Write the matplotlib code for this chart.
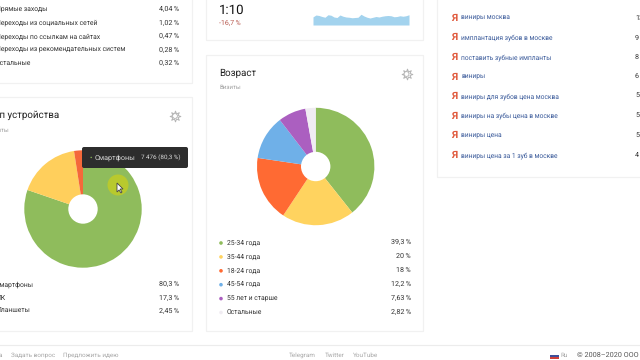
import matplotlib

matplotlib.use("Agg")
import matplotlib.pyplot as plt
from matplotlib.patches import Circle, FancyBboxPatch, Polygon, Rectangle

plt.rcParams["font.family"] = ["Roboto", "DejaVu Sans"]
plt.rcParams["text.hinting"] = "no_hinting"

# Источники (обрезанный блок сверху слева)
source_names = ["Прямые заходы", "Переходы из социальных сетей", "Переходы по ссылкам на сайтах",
                "Переходы из рекомендательных систем", "Остальные"]
source_values = ["4,04\u2009%", "1,02\u2009%", "0,47\u2009%", "0,28\u2009%", "0,32\u2009%"]

# Тип устройства
device_names = ["Смартфоны", "ПК", "Планшеты"]
device_shares = [80.3, 17.3, 2.45]
device_labels = ["80,3\u2009%", "17,3\u2009%", "2,45\u2009%"]
device_colors = ["#8fbc5c", "#ffcf5c", "#f4683a"]

# Возраст
age_names = ["25-34 года", "35-44 года", "18-24 года", "45-54 года", "55 лет и старше", "Остальные"]
age_shares = [39.3, 20, 18, 12.2, 7.63, 2.82]
age_labels = ["39,3\u2009%", "20\u2009%", "18\u2009%", "12,2\u2009%", "7,63\u2009%", "2,82\u2009%"]
age_colors = ["#8fbc5c", "#ffd35f", "#ff6a33", "#6fb0e8", "#ab5fc0", "#f0ecf2"]

# Спарклайн времени на сайте
spark_values = [6.5, 8.0, 7.6, 6.8, 6.2, 8.2, 7.8, 6.4, 6.0, 8.0, 7.0, 6.4, 6.2, 5.8, 6.0,
                6.2, 8.6, 7.2, 6.2, 5.6, 6.2, 6.8, 6.4, 7.0, 7.4, 7.6, 7.4, 6.6, 6.8, 7.4,
                7.0, 7.4, 8.2]

# Поисковые запросы
query_names = ["виниры москва", "имплантация зубов в москве", "поставить зубные импланты", "виниры",
               "виниры для зубов цена москва", "виниры на зубы цена в москве", "виниры цена",
               "виниры цена за 1 зуб в москве"]
query_counts = ["13", "9", "8", "6", "5", "5", "5", "4"]


def card(ax, x0, y0, x1, y1):
    ax.add_patch(Rectangle((x0, y0), x1 - x0, y1 - y0, facecolor="white", edgecolor="#f1f1f1", linewidth=0.9))


def donut(ax, values, colors, cx, cy):
    # ось y перевёрнута, поэтому по часовой на картинке это counterclock=True
    ax.pie(values, colors=colors, center=(cx, cy), radius=58.7, startangle=-90, counterclock=True,
           frame=False, wedgeprops={"linewidth": 0})
    ax.add_patch(Circle((cx, cy), 14.7, facecolor="white", edgecolor="none", zorder=5))


def gear(ax, x, y):
    ax.scatter([x], [y], marker=(8, 1, 0), s=60, facecolor="white", edgecolor="#b4b4b4", linewidth=0.7, zorder=4)
    ax.add_patch(Circle((x, y), 2.4, facecolor="white", edgecolor="#b4b4b4", linewidth=0.6, zorder=5))


def main() -> None:
    fig = plt.figure(figsize=(6.4, 3.6), dpi=100, facecolor="white")
    ax = fig.add_axes([0, 0, 1, 1])

    card(ax, -5, -5, 192, 83)
    card(ax, -5, 97, 192, 331)
    card(ax, 206, -5, 423, 40)
    card(ax, 206, 55, 423, 331)
    card(ax, 437, -5, 660, 177)

    for i, (name, value) in enumerate(zip(source_names, source_values)):
        y = 9.5 + i * 13.5
        ax.text(-4, y, name, fontsize=4.9, color="#333333", va="center")
        ax.text(179.5, y, value, fontsize=5.1, color="#333333", va="center", ha="right")

    # тип устройства
    ax.text(-12.5, 115.5, "Тип устройства", fontsize=7.0, color="#222222", va="center")
    ax.text(-13, 130, "Визиты", fontsize=4.4, color="#a0a0a0", va="center")
    gear(ax, 175, 116)
    donut(ax, device_shares, device_colors, 83, 209)
    ax.add_patch(Circle((118, 185), 10.5, facecolor="#b8c92e", edgecolor="none", zorder=6))
    ax.add_patch(Polygon([(117, 183), (117, 192), (119, 190), (121, 193), (122, 192), (120, 189), (123, 189)],
                         facecolor="white", edgecolor="#444444", linewidth=0.6, zorder=7))
    ax.add_patch(FancyBboxPatch((82, 147), 106, 21, boxstyle="round,pad=0,rounding_size=2",
                                facecolor="#2d2d2d", edgecolor="none", zorder=8))
    ax.text(89.5, 157.5, "•", fontsize=5, color="#8fbc5c", va="center", zorder=9)
    ax.text(95, 157.5, "Смартфоны", fontsize=5.2, color="#d8d8d8", va="center", zorder=9)
    ax.text(180.5, 157.5, "7\u2009476 (80,3\u2009%)", fontsize=4.6, color="#d8d8d8", va="center", ha="right", zorder=9)
    for i, (name, label) in enumerate(zip(device_names, device_labels)):
        y = 284.5 + i * 13.5
        ax.text(-4, y, name, fontsize=4.9, color="#333333", va="center")
        ax.text(179.5, y, label, fontsize=5.1, color="#333333", va="center", ha="right")

    # время на сайте
    ax.text(219, 10, "1:10", fontsize=9.5, color="#111111", va="center")
    ax.text(219, 23, "-16,7\u2009%", fontsize=5.0, color="#b85a50", va="center")
    xs = [313 + i * 96 / (len(spark_values) - 1) for i in range(len(spark_values))]
    ys = [25 - v * 1.25 for v in spark_values]
    ax.fill_between(xs, ys, 25, color="#a3d3ee", linewidth=0)

    # возраст
    ax.text(219, 73.5, "Возраст", fontsize=7.0, color="#222222", va="center")
    ax.text(219, 87.5, "Визиты", fontsize=4.4, color="#a0a0a0", va="center")
    gear(ax, 406.5, 74)
    donut(ax, age_shares, age_colors, 315.7, 166.5)
    for i, (name, label, color) in enumerate(zip(age_names, age_labels, age_colors)):
        y = 243 + i * 13.9
        ax.add_patch(Circle((221, y), 1.8, facecolor=color, edgecolor="none"))
        ax.text(227, y, name, fontsize=4.9, color="#333333", va="center")
        ax.text(411, y - 0.5, label, fontsize=5.1, color="#333333", va="center", ha="right")

    # запросы
    for i, (name, count) in enumerate(zip(query_names, query_counts)):
        y = 18 + i * 19.6
        ax.text(454.5, y, "Я", fontsize=7.5, color="#e0593c", va="center", weight="bold", ha="center")
        ax.text(461, y, name, fontsize=4.8, color="#3a5a9a", va="center")
        ax.text(635, y, count, fontsize=5.1, color="#333333", va="center")

    # подвал
    ax.plot([-5, 650], [345, 345], color="#ececec", linewidth=0.8)
    footer = [(-1, "а"), (11, "Задать вопрос"), (63, "Предложить идею"), (289, "Telegram"),
              (325, "Twitter"), (353, "YouTube"), (560, "Ru")]
    for x, text in footer:
        ax.text(x, 355, text, fontsize=4.6, color="#a8a8a8", va="center")
    ax.add_patch(Rectangle((550, 353), 9, 2, facecolor="#ffffff", edgecolor="none"))
    ax.add_patch(Rectangle((550, 355), 9, 2, facecolor="#3f4f9a", edgecolor="none"))
    ax.add_patch(Rectangle((550, 357), 9, 2, facecolor="#d0403a", edgecolor="none"))
    ax.text(577, 355, "© 2008–2020 ООО «Яндекс»", fontsize=5.2, color="#555555", va="center")

    ax.set_xlim(0, 640)
    ax.set_ylim(360, 0)
    ax.set_aspect("auto")
    ax.axis("off")
    fig.savefig("out.png", dpi=100)


if __name__ == "__main__":
    main()
